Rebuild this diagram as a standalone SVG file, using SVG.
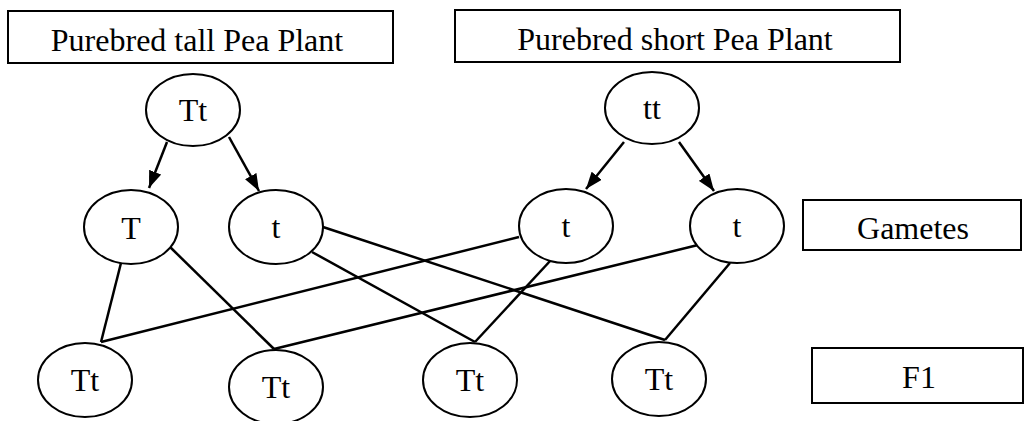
<svg xmlns="http://www.w3.org/2000/svg" width="1024" height="421" viewBox="0 0 1024 421">
<style>
.box{fill:#fff;stroke:#000;stroke-width:2}
.node{fill:#fff;stroke:#000;stroke-width:2}
.lbl{font-family:"Liberation Serif","Times New Roman",serif;font-size:32px;fill:#000;text-anchor:middle}
.edge{stroke:#000;stroke-width:2.5;fill:none}
</style>
<defs>
<marker id="ah" markerUnits="userSpaceOnUse" markerWidth="17" markerHeight="13" refX="17" refY="6.5" orient="auto">
<path d="M0,0 L17,6.5 L0,13 z" fill="#000"/>
</marker>
</defs>
<rect width="1024" height="421" fill="#fff"/>
<g id="connectors">
<line class="edge" x1="167" y1="142" x2="149" y2="188" marker-end="url(#ah)"/>
<line class="edge" x1="229" y1="137" x2="259" y2="191" marker-end="url(#ah)"/>
<line class="edge" x1="624" y1="142" x2="586" y2="189" marker-end="url(#ah)"/>
<line class="edge" x1="679" y1="142" x2="714" y2="191" marker-end="url(#ah)"/>
<line class="edge" x1="121" y1="263" x2="101" y2="342"/>
<line class="edge" x1="168" y1="245" x2="274" y2="349"/>
<line class="edge" x1="312" y1="252" x2="475" y2="342"/>
<line class="edge" x1="323" y1="227" x2="665" y2="340"/>
<line class="edge" x1="519" y1="237" x2="101" y2="342"/>
<line class="edge" x1="551" y1="260" x2="475" y2="342"/>
<line class="edge" x1="698" y1="245" x2="274" y2="349"/>
<line class="edge" x1="730" y1="263" x2="665" y2="340"/>
</g>
<g id="box-tall"><rect class="box" x="8" y="11" width="385" height="52"/><text class="lbl" x="197" y="51">Purebred tall Pea Plant</text></g>
<g id="box-short"><rect class="box" x="455" y="10" width="445" height="52"/><text class="lbl" x="675" y="50">Purebred short Pea Plant</text></g>
<g id="box-gametes"><rect class="box" x="803" y="200" width="218" height="50"/><text class="lbl" x="913" y="239">Gametes</text></g>
<g id="box-f1"><rect class="box" x="812" y="348" width="211" height="55"/><text class="lbl" x="919" y="388">F1</text></g>
<g id="p-tall"><ellipse class="node" cx="193" cy="110" rx="47" ry="36"/><text class="lbl" x="193" y="121">Tt</text></g>
<g id="p-short"><ellipse class="node" cx="652" cy="108" rx="47" ry="36"/><text class="lbl" x="652" y="119">tt</text></g>
<g id="g-T"><ellipse class="node" cx="131" cy="227" rx="47" ry="37"/><text class="lbl" x="131" y="239">T</text></g>
<g id="g-t1"><ellipse class="node" cx="276" cy="227" rx="47" ry="37"/><text class="lbl" x="276" y="238">t</text></g>
<g id="g-t2"><ellipse class="node" cx="566" cy="226" rx="47" ry="37"/><text class="lbl" x="566" y="237">t</text></g>
<g id="g-t3"><ellipse class="node" cx="737" cy="226" rx="47" ry="37"/><text class="lbl" x="737" y="237">t</text></g>
<g id="f1-1"><ellipse class="node" cx="85" cy="380" rx="47" ry="37"/><text class="lbl" x="85" y="391">Tt</text></g>
<g id="f1-2"><ellipse class="node" cx="276" cy="387" rx="47" ry="37"/><text class="lbl" x="276" y="398">Tt</text></g>
<g id="f1-3"><ellipse class="node" cx="470" cy="380" rx="47" ry="37"/><text class="lbl" x="470" y="391">Tt</text></g>
<g id="f1-4"><ellipse class="node" cx="659" cy="379" rx="47" ry="37"/><text class="lbl" x="659" y="390">Tt</text></g>
</svg>
